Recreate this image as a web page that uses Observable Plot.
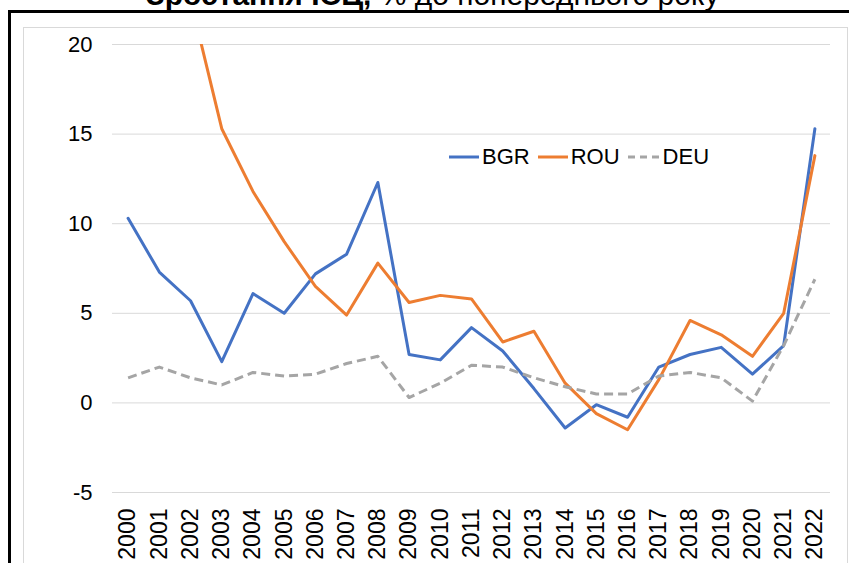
<!DOCTYPE html>
<html>
<head>
<meta charset="utf-8">
<script src="https://cdn.jsdelivr.net/npm/d3@7"></script>
<script src="https://cdn.jsdelivr.net/npm/@observablehq/plot@0.6"></script>
<style>
  html, body { margin: 0; padding: 0; background: #fff; }
  #wrap { position: relative; width: 849px; height: 563px; overflow: hidden; background: #fff;
          font-family: "Liberation Sans", Arial, sans-serif; }
  #title { position: absolute; left: 146px; top: -20px; font-size: 30px; line-height: 30px; white-space: nowrap; color: #000; }
  #title b { font-weight: bold; }
  #outer { position: absolute; left: 8px; top: 10px; width: 1000px; height: 800px; border: 3px solid #000; box-sizing: border-box; }
  #inner { position: absolute; left: 23px; top: 27px; width: 825px; height: 800px; border: 1px solid #d9d9d9; box-sizing: border-box; }
  #chart { position: absolute; left: 0; top: 0; }
  #legend { position: absolute; left: 449px; top: 144px; display: flex; align-items: center; font-size: 22px; color: #000; }
  #legend .item { display: flex; align-items: center; }
  #legend span { margin-left: 3px; margin-right: 8px; }
</style>
</head>
<body>
<div id="wrap">
  <div id="title"><b>Зростання ІСЦ,</b> % до попереднього року</div>
  <div id="outer"></div>
  <div id="inner"></div>
  <div id="chart"></div>
  <div id="legend"></div>
</div>
<script>
const years = [2000, 2001, 2002, 2003, 2004, 2005, 2006, 2007, 2008, 2009, 2010, 2011,
               2012, 2013, 2014, 2015, 2016, 2017, 2018, 2019, 2020, 2021, 2022];
const bgr = [10.3, 7.3, 5.7, 2.3, 6.1, 5.0, 7.2, 8.3, 12.3, 2.7, 2.4, 4.2,
             2.9, 0.8, -1.4, -0.1, -0.8, 2.0, 2.7, 3.1, 1.6, 3.2, 15.3];
const rou = [null, null, 22.5, 15.3, 11.8, 9.0, 6.5, 4.9, 7.8, 5.6, 6.0, 5.8,
             3.4, 4.0, 1.1, -0.6, -1.5, 1.3, 4.6, 3.8, 2.6, 5.0, 13.8];
const deu = [1.4, 2.0, 1.4, 1.0, 1.7, 1.5, 1.6, 2.2, 2.6, 0.3, 1.1, 2.1,
             2.0, 1.4, 0.9, 0.5, 0.5, 1.5, 1.7, 1.4, 0.1, 3.2, 6.9];
const yTicks = [-5, 0, 5, 10, 15, 20];
const seriesNames = ["BGR", "ROU", "DEU"];
const seriesColors = ["#4472C4", "#ED7D31", "#A5A5A5"];

const toRows = (vals) => years.map((year, i) => ({year, value: vals[i]})).filter(d => d.value != null);

const chart = Plot.plot({
  width: 849,
  height: 563,
  marginLeft: 112,
  marginRight: 19,
  marginTop: 44,
  marginBottom: 71,
  style: {fontFamily: "'Liberation Sans', Arial, sans-serif", background: "transparent", color: "#000"},
  x: {domain: [1999.5, 2022.5]},
  y: {domain: [-5, 20]},
  marks: [
    Plot.ruleY(yTicks, {stroke: "#d9d9d9", strokeWidth: 1}),
    Plot.axisY({ticks: yTicks, tickSize: 0, tickPadding: 20, tickFormat: d => String(d),
                fontSize: 22, fill: "#000", label: null}),
    Plot.axisX({ticks: years, tickSize: 0, tickPadding: 16, tickRotate: -90, tickFormat: d => String(d),
                fontSize: 23, fill: "#000", label: null}),
    Plot.line(toRows(bgr), {x: "year", y: "value", stroke: seriesColors[0], strokeWidth: 3, clip: true}),
    Plot.line(toRows(rou), {x: "year", y: "value", stroke: seriesColors[1], strokeWidth: 3, clip: true}),
    Plot.line(toRows(deu), {x: "year", y: "value", stroke: seriesColors[2], strokeWidth: 3, clip: true,
                            strokeDasharray: "9,5", strokeLinecap: "butt"})
  ]
});
document.getElementById("chart").appendChild(chart);

const legend = document.getElementById("legend");
seriesNames.forEach((name, i) => {
  const item = document.createElement("div");
  item.className = "item";
  const dash = i === 2 ? ' stroke-dasharray="7,5"' : '';
  const w = i === 2 ? 32 : 30;
  item.innerHTML = `<svg width="${w}" height="10"><line x1="0" y1="5" x2="${w}" y2="5" stroke="${seriesColors[i]}" stroke-width="3"${dash}/></svg><span>${name}</span>`;
  legend.appendChild(item);
});
</script>
</body>
</html>
